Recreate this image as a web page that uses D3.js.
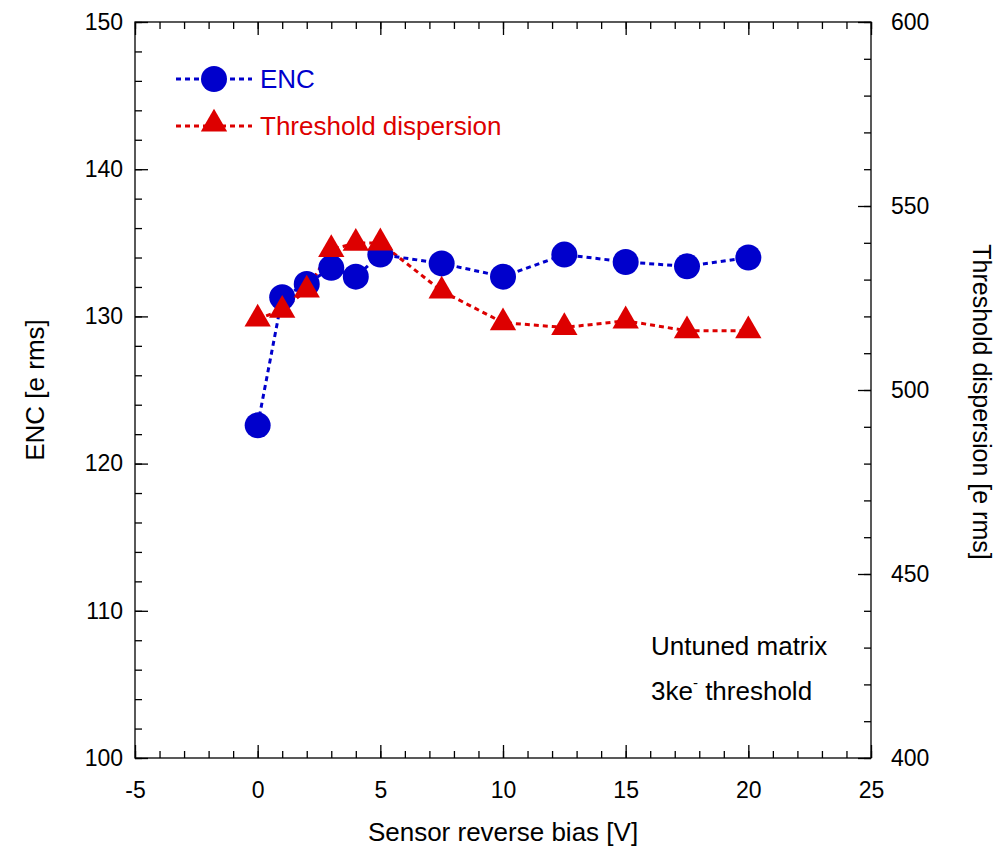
<!DOCTYPE html>
<meta charset="utf-8">
<style>
    body { margin: 0; background: #fff; }
    text { font-family: "Liberation Sans", Arial, sans-serif; fill: #000; }
    .axis path, .axis line { stroke: #000; stroke-width: 1.3px; }
</style>
<svg width="999" height="848"></svg>
<script src="https://d3js.org/d3.v7.min.js"></script>
<script>

    var bias = [0, 1, 2, 3, 4, 5, 7.5, 10, 12.5, 15, 17.5, 20];
    var enc = [122.6, 131.3, 132.2, 133.3, 132.7, 134.2, 133.6, 132.7, 134.2, 133.7, 133.4, 134.0];
    var dispersion = [519.3, 521.7, 527.2, 538.2, 539.9, 540.0, 526.9, 518.3, 517.0, 518.8, 516.1, 516.1];

    var xTicks = [-5, 0, 5, 10, 15, 20, 25];
    var yLeftTicks = [100, 110, 120, 130, 140, 150];
    var yRightTicks = [400, 450, 500, 550, 600];

    var blue = "#0000cc", red = "#dd0000";

    var svg = d3.select("svg"),
        pLeft = 135, pRight = 871, pTop = 22, pBottom = 758;

    var x = d3.scaleLinear().domain([-5, 25]).range([pLeft, pRight]),
        y = d3.scaleLinear().domain([100, 150]).range([pBottom, pTop]),
        y2 = d3.scaleLinear().domain([400, 600]).range([pBottom, pTop]);

    function plain(d) { return String(d); }

    // minor ticks first, majors on top
    function minor(axis, scale, vals) {
        return axis(scale).tickValues(vals).tickSize(7).tickFormat("");
    }
    function noDomain(s) { s.select(".domain").remove(); }

    var g = svg.append("g");

    // frame
    g.append("rect").attr("x", pLeft).attr("y", pTop)
        .attr("width", pRight - pLeft).attr("height", pBottom - pTop)
        .attr("fill", "none").attr("stroke", "#000").attr("stroke-width", 1.3);

    g.append("g").attr("class", "axis").attr("transform", "translate(0," + pBottom + ")")
        .call(minor(d3.axisTop, x, d3.range(-5, 25.01, 1))).call(noDomain);
    g.append("g").attr("class", "axis").attr("transform", "translate(0," + pTop + ")")
        .call(minor(d3.axisBottom, x, d3.range(-5, 25.01, 1))).call(noDomain);
    g.append("g").attr("class", "axis").attr("transform", "translate(" + pLeft + ",0)")
        .call(minor(d3.axisRight, y, d3.range(100, 150.01, 2))).call(noDomain);
    g.append("g").attr("class", "axis").attr("transform", "translate(" + pRight + ",0)")
        .call(minor(d3.axisLeft, y2, d3.range(400, 600.01, 10))).call(noDomain);

    // majors with labels
    var xa = g.append("g").attr("class", "axis").attr("transform", "translate(0," + pBottom + ")")
        .call(d3.axisTop(x).tickValues(xTicks).tickSize(13).tickFormat(plain)).call(noDomain);
    xa.selectAll("text").attr("y", 24).attr("dy", "0.71em").style("font-size", "23px");

    g.append("g").attr("class", "axis").attr("transform", "translate(0," + pTop + ")")
        .call(d3.axisBottom(x).tickValues(xTicks).tickSize(13).tickFormat("")).call(noDomain);

    var ya = g.append("g").attr("class", "axis").attr("transform", "translate(" + pLeft + ",0)")
        .call(d3.axisRight(y).tickValues(yLeftTicks).tickSize(13).tickFormat(plain)).call(noDomain);
    ya.selectAll("text").attr("x", -12).attr("text-anchor", "end").style("font-size", "23px");

    var y2a = g.append("g").attr("class", "axis").attr("transform", "translate(" + pRight + ",0)")
        .call(d3.axisLeft(y2).tickValues(yRightTicks).tickSize(13).tickFormat(plain)).call(noDomain);
    y2a.selectAll("text").attr("x", 20).attr("text-anchor", "start").style("font-size", "23px");

    // axis titles
    svg.append("text").attr("x", (pLeft + pRight) / 2).attr("y", 841)
        .attr("text-anchor", "middle").style("font-size", "26px").text("Sensor reverse bias [V]");
    svg.append("text").attr("transform", "translate(44," + (pTop + pBottom) / 2 + ") rotate(-90)")
        .attr("text-anchor", "middle").style("font-size", "26px").text("ENC [e rms]");
    svg.append("text").attr("transform", "translate(973,402) rotate(90)")
        .attr("text-anchor", "middle").style("font-size", "25px").text("Threshold dispersion [e rms]");

    // lines
    var lineEnc = d3.line().x(function (d, i) { return x(bias[i]); }).y(function (d) { return y(d); });
    var lineDis = d3.line().x(function (d, i) { return x(bias[i]); }).y(function (d) { return y2(d); });

    svg.append("path").datum(dispersion).attr("d", lineDis)
        .attr("fill", "none").attr("stroke", red).attr("stroke-width", 3).attr("stroke-dasharray", "5,4");
    svg.append("path").datum(enc).attr("d", lineEnc)
        .attr("fill", "none").attr("stroke", blue).attr("stroke-width", 3).attr("stroke-dasharray", "5,4");

    var tri = d3.symbol().type(d3.symbolTriangle).size(300);

    svg.selectAll(".enc").data(enc).enter().append("circle")
        .attr("cx", function (d, i) { return x(bias[i]); })
        .attr("cy", function (d) { return y(d); })
        .attr("r", 13).attr("fill", blue);

    svg.selectAll(".dis").data(dispersion).enter().append("path")
        .attr("d", tri)
        .attr("transform", function (d, i) { return "translate(" + x(bias[i]) + "," + y2(d) + ")"; })
        .attr("fill", red);

    // legend
    var leg = svg.append("g");
    leg.append("line").attr("x1", 176).attr("x2", 252).attr("y1", 79).attr("y2", 79)
        .attr("stroke", blue).attr("stroke-width", 3).attr("stroke-dasharray", "5,4");
    leg.append("circle").attr("cx", 214).attr("cy", 79).attr("r", 13).attr("fill", blue);
    leg.append("text").attr("x", 260).attr("y", 88).style("font-size", "26px").style("fill", blue).text("ENC");

    leg.append("line").attr("x1", 176).attr("x2", 252).attr("y1", 126).attr("y2", 126)
        .attr("stroke", red).attr("stroke-width", 3).attr("stroke-dasharray", "5,4");
    leg.append("path").attr("d", tri).attr("transform", "translate(214,124)").attr("fill", red);
    leg.append("text").attr("x", 260).attr("y", 135).style("font-size", "26px").style("fill", red).text("Threshold dispersion");

    // annotations
    svg.append("text").attr("x", 651).attr("y", 655).style("font-size", "26px").text("Untuned matrix");
    var t = svg.append("text").attr("x", 651).attr("y", 700).style("font-size", "26px");
    t.append("tspan").text("3ke");
    t.append("tspan").attr("dy", -12).style("font-size", "15px").text("-");
    t.append("tspan").attr("dy", 12).text(" threshold");

</script>
